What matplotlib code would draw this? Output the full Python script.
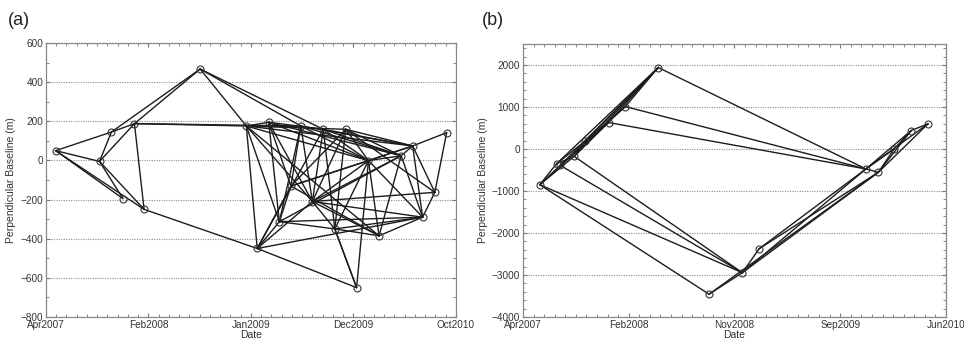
import numpy as np
import pandas as pd
import matplotlib
matplotlib.use("Agg")
import matplotlib.pyplot as plt
import matplotlib.dates as mdates
from matplotlib.ticker import MultipleLocator, FixedLocator

plt.rcParams['font.family'] = ['Liberation Sans', 'DejaVu Sans']

# ---- panel (a): acquisitions, perpendicular baselines and interferometric pairs
dates_a = ['2007-05-01', '2007-09-15', '2007-10-22', '2007-11-27', '2008-01-02',
           '2008-02-01', '2008-07-25', '2008-12-16', '2009-01-19', '2009-02-24',
           '2009-03-29', '2009-05-04', '2009-06-04', '2009-07-10', '2009-08-13',
           '2009-09-18', '2009-10-22', '2009-11-25', '2010-01-01', '2010-02-03',
           '2010-04-13', '2010-05-19', '2010-06-19', '2010-07-27', '2010-09-02']
bperp_a = [50, -5, 145, -195, 188, -250, 467, 176, -450, 195,
           -313, -131, 176, -210, 159, -350, 159, -650, -1, -385,
           24, 74, -290, -163, 142]
pairs_a = [(0, 1), (0, 2), (0, 3), (0, 5), (2, 4), (1, 2), (1, 4), (1, 3), (1, 5),
           (4, 5), (2, 6), (4, 6), (4, 7), (4, 12), (5, 8), (6, 7), (6, 12), (6, 14),
           (7, 8), (7, 10), (7, 13), (7, 19), (7, 9), (7, 12), (7, 16), (7, 21), (7, 18),
           (9, 10), (9, 13), (9, 14), (9, 20), (9, 11), (9, 18),
           (8, 11), (8, 13), (8, 17), (8, 22), (8, 10), (8, 14),
           (10, 22), (10, 20), (10, 11), (10, 12), (10, 15),
           (11, 12), (11, 21), (11, 18), (11, 19), (11, 16),
           (12, 13), (12, 18), (12, 21), (12, 20),
           (13, 14), (13, 18), (13, 20), (13, 22), (13, 15), (13, 16), (13, 23), (13, 19),
           (14, 18), (14, 21), (14, 15), (14, 20),
           (15, 16), (15, 17), (15, 22), (15, 19), (15, 18),
           (16, 18), (16, 20), (16, 23), (16, 21),
           (17, 15), (17, 18),
           (18, 19), (18, 22), (18, 20), (18, 21),
           (19, 22), (19, 20), (20, 21), (20, 22), (21, 22), (21, 24), (21, 23),
           (22, 23), (23, 24)]
xlim_a = ('2007-04-01', '2010-10-01')
xlabels_a = ['Apr2007', 'Feb2008', 'Jan2009', 'Dec2009', 'Oct2010']
yticks_a = [-800, -600, -400, -200, 0, 200, 400, 600]

# ---- panel (b)
dates_b = ['2007-05-17', '2007-07-02', '2007-07-12', '2007-08-19', '2007-09-18',
           '2007-11-21', '2008-01-06', '2008-04-05', '2008-08-22', '2008-11-21',
           '2009-01-06', '2009-10-25', '2009-11-28', '2010-01-10', '2010-02-26',
           '2010-04-13']
bperp_b = [-850, -350, -390, -175, 180, 630, 1010, 1940, -3458, -2945,
           -2375, -475, -555, 0, 440, 600]
pairs_b = [(0, 1), (0, 2), (0, 3), (1, 3), (1, 5), (2, 6), (3, 7), (2, 7), (1, 7),
           (3, 5), (4, 6), (4, 7), (5, 7), (6, 7), (0, 5), (3, 4),
           (7, 11), (6, 11), (5, 11), (0, 8), (0, 9), (2, 9), (3, 9),
           (8, 9), (8, 12), (9, 10), (9, 11), (9, 12), (10, 11), (10, 12), (11, 12),
           (11, 13), (11, 14), (11, 15), (12, 14), (12, 15), (13, 14), (14, 15), (12, 13)]
xlim_b = ('2007-04-01', '2010-06-01')
xlabels_b = ['Apr2007', 'Feb2008', 'Nov2008', 'Sep2009', 'Jun2010']
yticks_b = [-4000, -3000, -2000, -1000, 0, 1000, 2000]
ylim_b = (-4000, 2500)


def draw(ax, dates, bperp, pairs, xlim, xlabels, ylim, yticks, yminor):
    x = mdates.date2num(pd.to_datetime(dates))
    y = np.array(bperp, dtype=float)
    for i, j in pairs:
        ax.plot([x[i], x[j]], [y[i], y[j]], '-', color='#1c1c1c', lw=1.0,
                solid_capstyle='round', zorder=2)
    ax.plot(x, y, 'o', ms=5, mfc='none', mec='#333333', mew=0.8, zorder=3)

    x0, x1 = mdates.date2num(pd.to_datetime(list(xlim)))
    ax.set_xlim(x0, x1)
    ax.set_ylim(*ylim)
    ticks = np.linspace(x0, x1, len(xlabels))
    ax.xaxis.set_major_locator(FixedLocator(ticks))
    ax.set_xticklabels(xlabels)
    ax.xaxis.set_minor_locator(FixedLocator(np.linspace(x0, x1, 10 * (len(xlabels) - 1) + 1)))
    ax.set_yticks(yticks)
    ax.yaxis.set_minor_locator(MultipleLocator(yminor))

    ax.yaxis.grid(True, which='major', ls=(0, (1, 1.2)), color='#8a8a8a', lw=0.8)
    ax.tick_params(which='both', direction='in', top=True, right=True,
                   color='#777777', labelsize=7.2, labelcolor='#333333', pad=2)
    ax.tick_params(which='major', length=3)
    ax.tick_params(which='minor', length=2)
    for s in ax.spines.values():
        s.set_color('#888888')
        s.set_linewidth(0.9)
    ax.set_xlabel('Date', fontsize=7.5, color='#333333', labelpad=0)
    ax.set_ylabel('Perpendicular Baseline (m)', fontsize=7.5, color='#333333', labelpad=3)


fig = plt.figure(figsize=(9.64, 3.41), dpi=100)
ax1 = fig.add_axes([0.0477, 0.0704, 0.4253, 0.8035])
ax2 = fig.add_axes([0.5425, 0.0704, 0.4388, 0.8006])

draw(ax1, dates_a, bperp_a, pairs_a, xlim_a, xlabels_a, (-800, 600), yticks_a, 100)
draw(ax2, dates_b, bperp_b, pairs_b, xlim_b, xlabels_b, ylim_b, yticks_b, 200)

fig.text(0.008, 0.94, '(a)', fontsize=13, va='center', ha='left', color='#222222')
fig.text(0.500, 0.94, '(b)', fontsize=13, va='center', ha='left', color='#222222')

fig.savefig('out.png', dpi=100)
